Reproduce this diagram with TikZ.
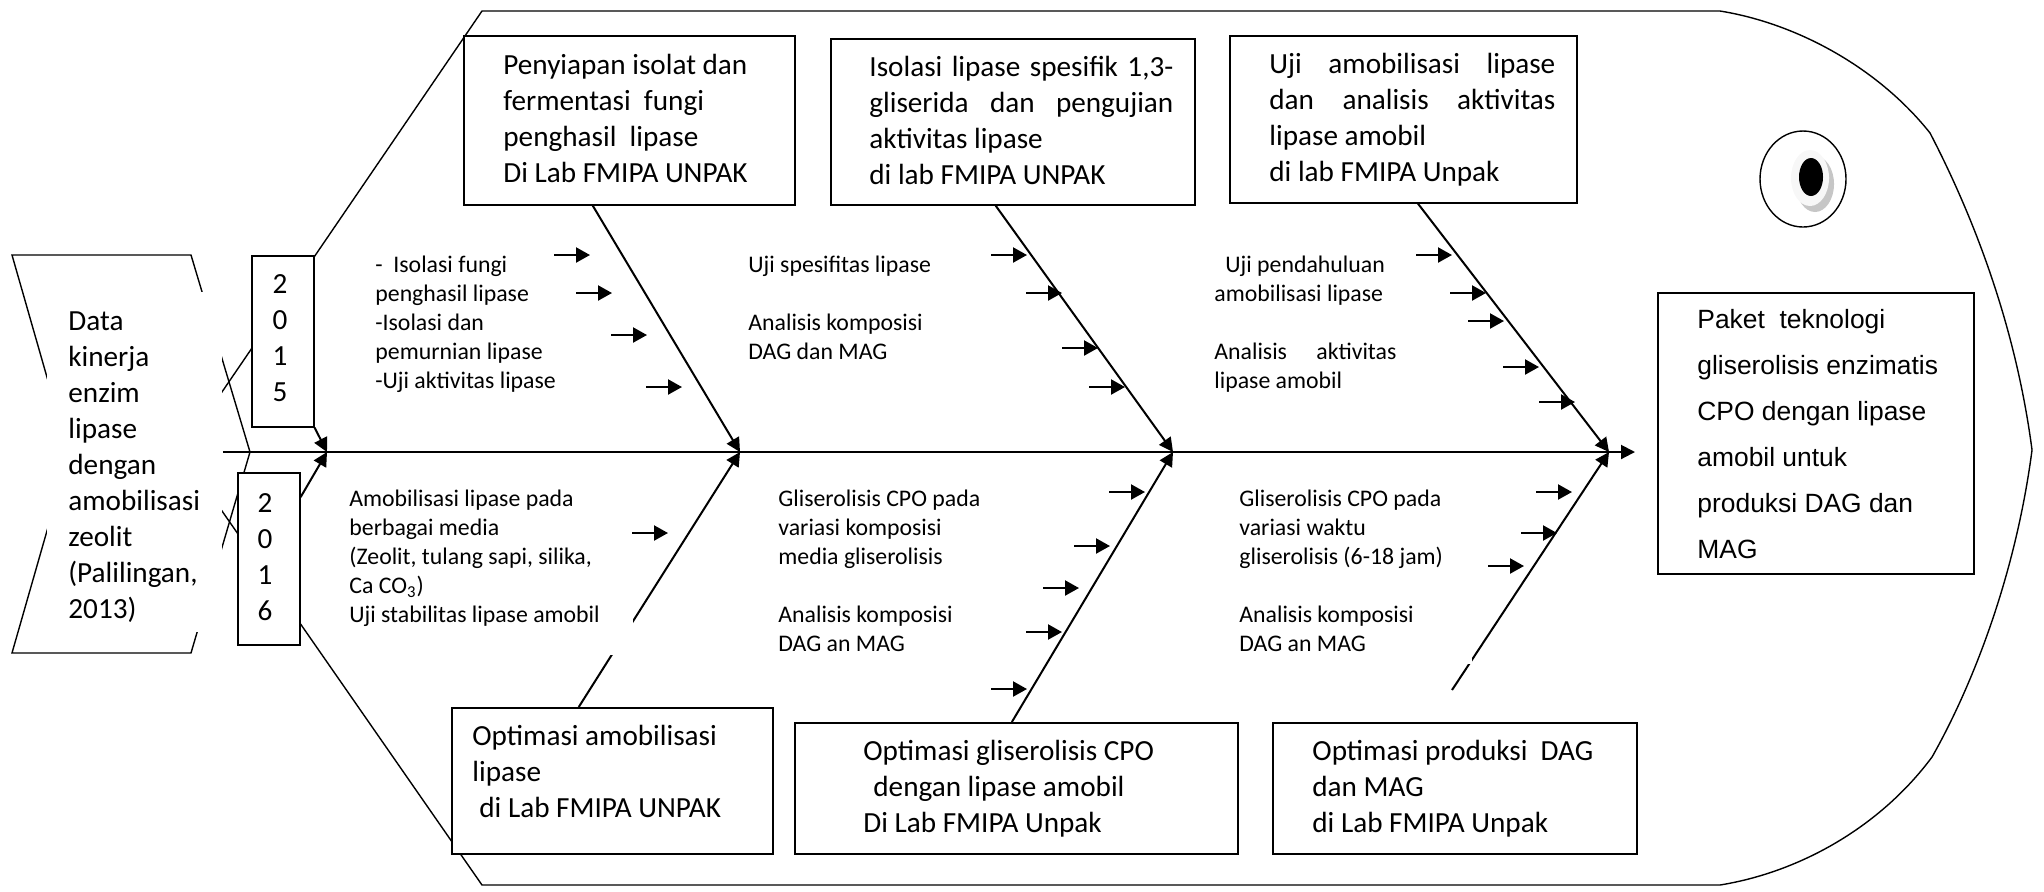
\documentclass[tikz,border=0pt]{standalone}
\usepackage{fontspec}
\setmainfont{Carlito}
\newfontfamily\arialf{Liberation Sans}
\usetikzlibrary{arrows.meta,calc}
\begin{document}
\begin{tikzpicture}[x=0.5pt,y=-0.5pt,
  outline/.style={line width=0.7pt, line join=miter},
  box/.style={draw, line width=0.8pt, fill=white, inner sep=0pt, anchor=north west},
  bigtxt/.style={font=\fontsize{14.6}{18}\selectfont, anchor=north west, inner sep=0pt, align=left},
  smalltxt/.style={font=\fontsize{11.9}{14.5}\selectfont, anchor=north west, inner sep=0pt, align=left},
  bone/.style={line width=1pt, -{Triangle[length=7pt,width=7pt]}},
  rib/.style={line width=1.1pt, -{Triangle[length=7pt,width=7.5pt]}},
]
\useasboundingbox (0,0) rectangle (2044,891);

% fish body outline
\draw[outline] (181,452) -- (482,11) -- (1720,11)
  .. controls (1800,24) and (1880,70) .. (1930,133)
  .. controls (1970,210) and (2015,320) .. (2032,450)
  .. controls (2015,580) and (1970,690) .. (1932,757)
  .. controls (1880,827) and (1800,872) .. (1720,885)
  -- (482,885) -- cycle;

% tail
\draw[outline] (12,255) -- (191,255) -- (250,452) -- (191,653) -- (12,653) -- (69,454) -- cycle;
\node[fill=white, inner sep=0pt, minimum width=87.5pt, minimum height=170pt, anchor=north west] (tailbg) at (47,292) {};
\node[bigtxt] (tailtxt) at (68,304.8) {\strut Data\\kinerja\\enzim\\lipase\\dengan\\amobilisasi\\zeolit\\(Palilingan,\\2013)};

% eye
\draw[line width=0.7pt] (1803,179) ellipse [x radius=21.5pt, y radius=24pt];
\fill[gray!45] (1815,184) ellipse [x radius=9.5pt, y radius=14pt];
\fill[gray!6] (1810,178) ellipse [x radius=9.5pt, y radius=14pt];
\fill[black] (1811,177) ellipse [x radius=6pt, y radius=9.5pt];

% convergence points on the spine
\coordinate (c1) at (327,452);
\coordinate (c2) at (740,452);
\coordinate (c3) at (1173,452);
\coordinate (c4) at (1609,452);
\coordinate (tip) at (1635,452);
\coordinate (f0) at (1452,690);

% boxes
\node[box, minimum width=31pt, minimum height=85.5pt] (Y1) at (251,255) {};
\node[box, minimum width=31pt, minimum height=86pt] (Y2) at (237,472) {};
\node[box, minimum width=165.5pt, minimum height=84.5pt] (A) at (463,35) {};
\node[box, minimum width=182pt, minimum height=83pt] (B) at (830,38) {};
\node[box, minimum width=173.5pt, minimum height=83.5pt] (C) at (1229,35) {};
\node[box, minimum width=160.5pt, minimum height=73pt] (D) at (451,707) {};
\node[box, minimum width=221.5pt, minimum height=65.5pt] (E) at (794,722) {};
\node[box, minimum width=182pt, minimum height=65.5pt] (F) at (1272,722) {};
\node[box, minimum width=158pt, minimum height=140.5pt] (P) at (1657,292) {};

% spine
\draw[line width=1pt] (tailbg.east |- c1) -- (c4);
\draw[bone] (c4) -- (tip);

% bones
\draw[bone] (Y1.south east) -- (c1);
\draw[bone] ($(Y2.north east)!0.145!(Y2.south east)$) -- (c1);
\draw[bone] ($(A.south west)!0.39!(A.south east)$) -- (c2);
\draw[bone] ($(D.north west)!0.396!(D.north east)$) -- (c2);
\draw[bone] ($(B.south west)!0.453!(B.south east)$) -- (c3);
\draw[bone] ($(E.north west)!0.49!(E.north east)$) -- (c3);
\draw[bone] ($(C.south west)!0.542!(C.south east)$) -- (c4);
\draw[bone] (f0) -- (c4);

% white backgrounds of the lower cause texts
\node[fill=white, inner sep=0pt, minimum width=146.5pt, minimum height=87.5pt, anchor=north west] (g4bg) at (340,480) {};
\node[fill=white, inner sep=0pt, minimum width=121pt, minimum height=92pt, anchor=north west] (g6bg) at (1230,480) {};

% year labels
\node[bigtxt, anchor=north, align=center] (y1t) at (280,267.8) {\strut 2\\0\\1\\5};
\node[bigtxt, anchor=north, align=center] (y2t) at (265,486.8) {\strut 2\\0\\1\\6};

% box texts
\node[bigtxt] (At) at (503,48.8) {\strut Penyiapan isolat dan\\fermentasi\ \ fungi\\penghasil\ \ lipase\\Di Lab FMIPA UNPAK};
\node[bigtxt] (Bt) at (869,50.8) {\strut\makebox[152pt][s]{Isolasi lipase spesifik 1,3-}\\\makebox[152pt][s]{gliserida dan pengujian}\\aktivitas lipase\\di lab FMIPA UNPAK};
\node[bigtxt] (Ct) at (1269,47.8) {\strut\makebox[143pt][s]{Uji amobilisasi lipase}\\\makebox[143pt][s]{dan analisis aktivitas}\\lipase amobil\\di lab FMIPA Unpak};
\node[bigtxt] (Dt) at (472,719.8) {\strut Optimasi amobilisasi\\lipase\\\hspace{3.5pt}di Lab FMIPA UNPAK};
\node[bigtxt] (Et) at (863,734.8) {\strut Optimasi gliserolisis CPO\\\hspace{5pt}dengan lipase amobil\\Di Lab FMIPA Unpak};
\node[bigtxt] (Ft) at (1312,734.8) {\strut Optimasi produksi\ \ DAG\\dan MAG\\di Lab FMIPA Unpak};
\node[font=\arialf\fontsize{13.2}{23}\selectfont, anchor=north west, inner sep=0pt, align=left] (Pt) at (1697,295.8)
  {\strut Paket\ \ teknologi\\gliserolisis enzimatis\\CPO dengan lipase\\amobil untuk\\produksi DAG dan\\MAG};

% cause texts
\node[smalltxt] (g1) at (375,251.7) {\strut -\ \ Isolasi fungi\\penghasil lipase\\-Isolasi dan\\pemurnian lipase\\-Uji aktivitas lipase};
\node[smalltxt] (g2) at (748,251.7) {\strut Uji spesifitas lipase\\[14.5pt]Analisis komposisi\\DAG dan MAG};
\node[smalltxt] (g3) at (1214,251.7) {\strut\hspace{5.5pt}Uji pendahuluan\\amobilisasi lipase\\[14.5pt]\makebox[91pt][s]{Analisis aktivitas}\\lipase amobil};
\node[smalltxt] (g4) at (349,485.7) {\strut Amobilisasi lipase pada\\berbagai media\\(Zeolit, tulang sapi, silika,\\Ca CO\textsubscript{3})\\Uji stabilitas lipase amobil};
\node[smalltxt] (g5) at (778,485.7) {\strut Gliserolisis CPO pada\\variasi komposisi\\media gliserolisis\\[14.5pt]Analisis komposisi\\DAG an MAG};
\node[smalltxt] (g6) at (1239,485.7) {\strut Gliserolisis CPO pada\\variasi waktu\\gliserolisis (6-18 jam)\\[14.5pt]Analisis komposisi\\DAG an MAG};

% ribs
\foreach \x/\y in {554/255, 576/293, 611/335, 646/387,
                   991/255, 1026/293, 1062/348, 1089/387,
                   1416/255, 1450/293, 1468/321, 1503/367, 1539/402,
                   632/533,
                   1109/492, 1074/546, 1043/588, 1026/632, 991/689,
                   1536/492, 1521/533, 1488/566}
  \draw[rib] (\x,\y) -- ++(36,0);
\end{tikzpicture}
\end{document}
